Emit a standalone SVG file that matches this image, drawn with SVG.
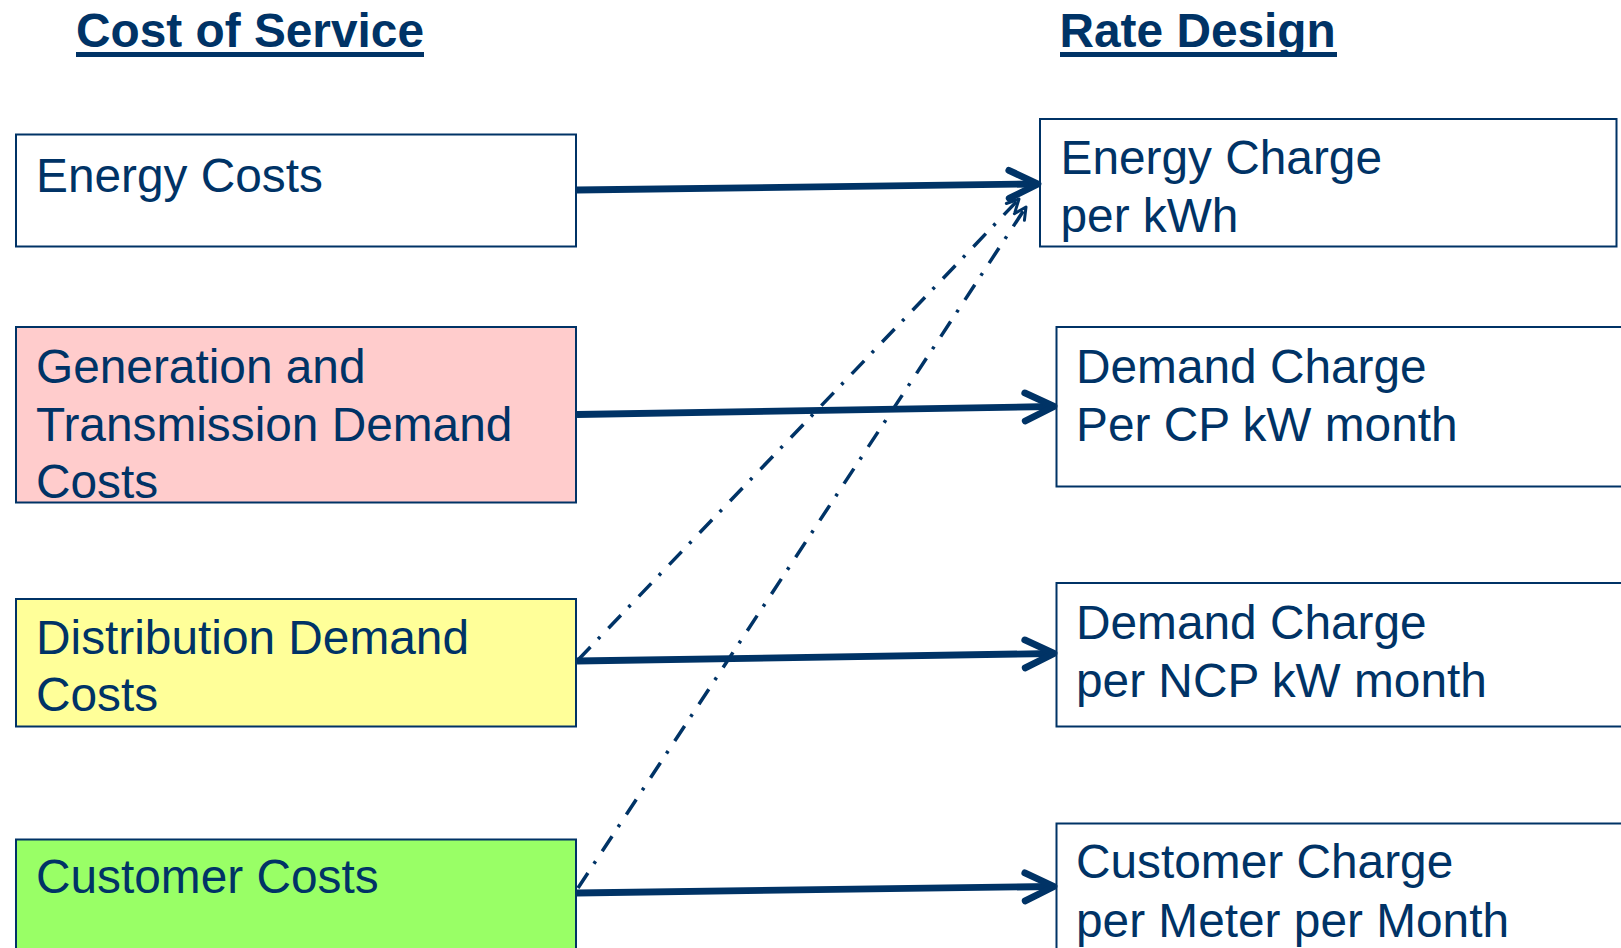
<svg xmlns="http://www.w3.org/2000/svg" width="1621" height="948" viewBox="0 0 1621 948">
  <style>
    .bg { fill: #ffffff; }
    .box { stroke: #003366; stroke-width: 2; }
    .plain { fill: #ffffff; }
    .pink { fill: #ffcccc; }
    .yellow { fill: #ffff99; }
    .green { fill: #99ff66; }
    .label { font-family: "Liberation Sans", Arial, sans-serif; font-size: 47.8px; fill: #003366; }
    .title { font-family: "Liberation Sans", Arial, sans-serif; font-size: 47.8px; font-weight: bold; fill: #003366; }
    .rule { fill: #003366; }
    .flow { stroke: #003366; stroke-width: 6.8; fill: none; marker-end: url(#chevron); }
    .alt { stroke: #003366; stroke-width: 3.5; fill: none; stroke-dasharray: 18 11 3 12; marker-end: url(#smallChevron); }
  </style>
  <defs>
    <marker id="chevron" markerUnits="userSpaceOnUse" viewBox="-36 -20 44 40" markerWidth="44" markerHeight="40" refX="0" refY="0" orient="auto">
      <path d="M -26 -14 L 3 0 L -26 14" fill="none" stroke="#003366" stroke-width="6.8" stroke-linecap="round" stroke-linejoin="round"/>
    </marker>
    <marker id="smallChevron" markerUnits="userSpaceOnUse" viewBox="-18 -12 24 24" markerWidth="24" markerHeight="24" refX="0" refY="0" orient="auto">
      <path d="M -12 -6 L 0 0 L -12 6" fill="none" stroke="#003366" stroke-width="3" stroke-linecap="round" stroke-linejoin="round"/>
    </marker>
  </defs>

  <rect class="bg" x="0" y="0" width="1621" height="948"/>

  <!-- column headings -->
  <g id="heading-cost">
    <text class="title" x="76" y="46.5">Cost of Service</text>
    <rect class="rule" x="76" y="52" width="348" height="5"/>
  </g>
  <g id="heading-rate">
    <text class="title" x="1059.5" y="46.5">Rate Design</text>
    <rect class="rule" x="1060" y="52" width="277" height="5"/>
  </g>

  <!-- cost of service components -->
  <g id="energy-costs">
    <rect class="box plain" x="16" y="134.5" width="560" height="112"/>
    <text class="label" x="36" y="191.5">Energy Costs</text>
  </g>
  <g id="gt-demand-costs">
    <rect class="box pink" x="16" y="327" width="560" height="175.5"/>
    <text class="label" x="36" y="382.7">Generation and</text>
    <text class="label" x="36" y="440.5">Transmission Demand</text>
    <text class="label" x="36" y="498">Costs</text>
  </g>
  <g id="distribution-demand-costs">
    <rect class="box yellow" x="16" y="599" width="560" height="127.5"/>
    <text class="label" x="36" y="654">Distribution Demand</text>
    <text class="label" x="36" y="711">Costs</text>
  </g>
  <g id="customer-costs">
    <rect class="box green" x="16" y="839.5" width="560" height="130"/>
    <text class="label" x="36" y="893.3">Customer Costs</text>
  </g>

  <!-- rate design charges -->
  <g id="energy-charge">
    <rect class="box plain" x="1040" y="119" width="576.5" height="127.5"/>
    <text class="label" x="1060.5" y="174">Energy Charge</text>
    <text class="label" x="1060.5" y="231.7">per kWh</text>
  </g>
  <g id="cp-demand-charge">
    <rect class="box plain" x="1056.5" y="327" width="600" height="159.5"/>
    <text class="label" x="1076" y="382.7">Demand Charge</text>
    <text class="label" x="1076" y="440.7">Per CP kW month</text>
  </g>
  <g id="ncp-demand-charge">
    <rect class="box plain" x="1056.5" y="583" width="600" height="143.5"/>
    <text class="label" x="1076" y="639">Demand Charge</text>
    <text class="label" x="1076" y="696.7">per NCP kW month</text>
  </g>
  <g id="customer-charge">
    <rect class="box plain" x="1056.5" y="823.5" width="600" height="150"/>
    <text class="label" x="1076" y="878.3">Customer Charge</text>
    <text class="label" x="1076" y="936.7">per Meter per Month</text>
  </g>

  <!-- connectors -->
  <g id="connectors">
    <line class="flow" x1="577" y1="190" x2="1035" y2="184"/>
    <line class="flow" x1="577" y1="414.5" x2="1051" y2="406.5"/>
    <line class="flow" x1="577" y1="661" x2="1051" y2="653.5"/>
    <line class="flow" x1="577" y1="893" x2="1051" y2="886.5"/>
    <line class="alt" x1="578" y1="660" x2="1019" y2="199"/>
    <line class="alt" x1="578" y1="888" x2="1026" y2="207"/>
  </g>
</svg>
